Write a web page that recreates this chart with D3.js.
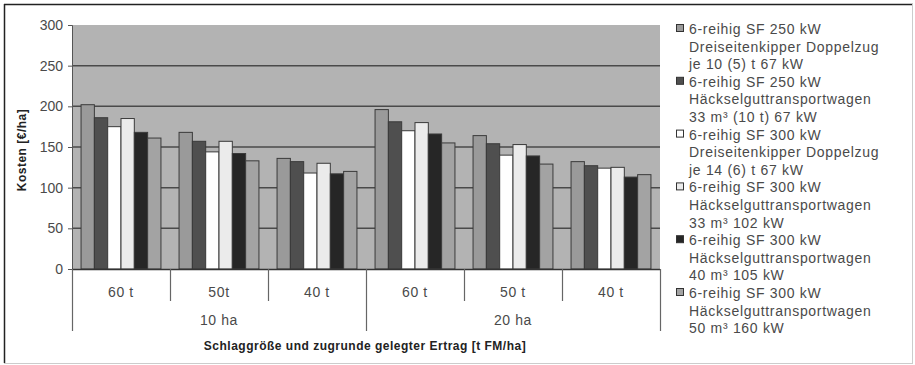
<!DOCTYPE html>
<html lang="de">
<head>
  <meta charset="utf-8">
  <title>Kosten</title>
  <script src="https://cdn.jsdelivr.net/npm/d3@7"></script>
  <style>
    body { margin: 0; background: #fff; }
    text { font-family: "Liberation Sans", Arial, sans-serif; }
  </style>
</head>
<body>
<script>
  // categories on the x axis and their groups
  let categories = ["60 t", "50t", "40 t", "60 t ", "50 t", "40 t "];
  let groups = ["10 ha", "20 ha"];
  let yTicks = [0, 50, 100, 150, 200, 250, 300];

  // one array per series, values in €/ha
  let s1 = [202, 168, 136, 196, 164, 132];
  let s2 = [186, 157, 132, 181, 154, 127];
  let s3 = [175, 144, 118, 170, 140, 124];
  let s4 = [185, 157, 130, 180, 153, 125];
  let s5 = [168, 142, 117, 166, 139, 113];
  let s6 = [161, 133, 120, 155, 129, 116];

  let legendLabels = [
    ["6-reihig SF 250 kW", "Dreiseitenkipper Doppelzug", "je 10 (5) t 67 kW"],
    ["6-reihig SF 250 kW", "Häckselguttransportwagen", "33 m³ (10 t) 67 kW"],
    ["6-reihig SF 300 kW", "Dreiseitenkipper Doppelzug", "je 14 (6) t 67 kW"],
    ["6-reihig SF 300 kW", "Häckselguttransportwagen", "33 m³ 102 kW"],
    ["6-reihig SF 300 kW", "Häckselguttransportwagen", "40 m³  105 kW"],
    ["6-reihig SF 300 kW", "Häckselguttransportwagen", "50 m³ 160 kW"]
  ];
  let colors = ["#9a9a9a", "#4f4f4f", "#ffffff", "#ebebeb", "#262626", "#a3a3a3"];

  let series = [s1, s2, s3, s4, s5, s6];

  let w = 915, h = 365;
  let mLeft = 72, mRight = 660, mTop = 25, mBottom = 269;

  let svg = d3.select("body").append("svg")
    .attr("width", w)
    .attr("height", h);

  // outer frame
  svg.append("line").attr("x1", 4).attr("y1", 4.5).attr("x2", 913).attr("y2", 4.5)
    .attr("stroke", "#222").attr("stroke-width", 1.5);
  svg.append("line").attr("x1", 4.5).attr("y1", 4).attr("x2", 4.5).attr("y2", 363)
    .attr("stroke", "#222").attr("stroke-width", 1.5);
  svg.append("line").attr("x1", 4).attr("y1", 363.5).attr("x2", 913).attr("y2", 363.5)
    .attr("stroke", "#ccc");
  svg.append("line").attr("x1", 912.5).attr("y1", 4).attr("x2", 912.5).attr("y2", 363)
    .attr("stroke", "#ccc");

  let x0 = d3.scaleBand()
    .domain(categories)
    .range([mLeft, mRight])
    .paddingInner(0);

  let x1 = d3.scaleBand()
    .domain(d3.range(series.length))
    .range([0, x0.bandwidth()])
    .paddingInner(0)
    .paddingOuter(0.68);

  let yScale = d3.scaleLinear()
    .domain([0, 300])
    .range([mBottom, mTop]);

  // plot area
  svg.append("rect")
    .attr("x", mLeft).attr("y", mTop)
    .attr("width", mRight - mLeft).attr("height", mBottom - mTop)
    .attr("fill", "#b3b3b3");

  // gridlines
  svg.append("g")
    .selectAll("line")
    .data(yTicks.filter(function(d) { return d > 0 && d < 300; }))
    .enter()
    .append("line")
    .attr("x1", mLeft).attr("x2", mRight)
    .attr("y1", function(d) { return yScale(d); })
    .attr("y2", function(d) { return yScale(d); })
    .attr("stroke", "#4a4a4a")
    .attr("stroke-width", 1.5);

  // bars
  let barGroups = svg.append("g")
    .selectAll("g")
    .data(series)
    .enter()
    .append("g")
    .attr("fill", function(d, i) { return colors[i]; });

  barGroups.each(function(vals, si) {
    d3.select(this).selectAll("rect")
      .data(vals)
      .enter()
      .append("rect")
      .attr("x", function(d, ci) { return x0(categories[ci]) + x1(si); })
      .attr("y", function(d) { return yScale(d); })
      .attr("width", x1.bandwidth())
      .attr("height", function(d) { return yScale(0) - yScale(d); })
      .attr("stroke", "#3a3a3a")
      .attr("stroke-width", 1);
  });

  // y axis
  let yAxis = d3.axisLeft(yScale)
    .tickValues(yTicks)
    .tickSize(4)
    .tickPadding(5);
  let gy = svg.append("g")
    .attr("transform", "translate(" + mLeft + ",0)")
    .call(yAxis);
  gy.select(".domain").attr("stroke", "#555");
  gy.selectAll(".tick line").attr("stroke", "#555");
  gy.selectAll("text")
    .attr("font-size", "14px")
    .attr("fill", "#4a4a4a")
    .attr("font-family", "'Liberation Sans', Arial, sans-serif");

  // x axis baseline
  svg.append("line")
    .attr("x1", mLeft).attr("x2", mRight)
    .attr("y1", mBottom + 0.5).attr("y2", mBottom + 0.5)
    .attr("stroke", "#333").attr("stroke-width", 1.5);

  // category separators
  let bounds = categories.map(function(c) { return x0(c); }).concat([mRight]);
  svg.append("g")
    .selectAll("line")
    .data(bounds)
    .enter()
    .append("line")
    .attr("x1", function(d) { return Math.round(d) + 0.5; })
    .attr("x2", function(d) { return Math.round(d) + 0.5; })
    .attr("y1", mBottom)
    .attr("y2", function(d, i) { return (i % 3 === 0) ? 331 : 301; })
    .attr("stroke", "#666")
    .attr("stroke-width", 1.2);

  // category labels
  svg.append("g")
    .selectAll("text")
    .data(categories)
    .enter()
    .append("text")
    .attr("x", function(d) { return x0(d) + x0.bandwidth() / 2; })
    .attr("y", 297)
    .attr("text-anchor", "middle")
    .attr("font-size", "14px")
    .attr("letter-spacing", "0.6px")
    .attr("fill", "#4a4a4a")
    .text(function(d) { return d.trim(); });

  // group labels
  svg.append("g")
    .selectAll("text")
    .data(groups)
    .enter()
    .append("text")
    .attr("x", function(d, i) {
      return (x0(categories[i * 3]) + x0(categories[i * 3 + 2]) + x0.bandwidth()) / 2;
    })
    .attr("y", 325)
    .attr("text-anchor", "middle")
    .attr("font-size", "14px")
    .attr("letter-spacing", "0.6px")
    .attr("fill", "#4a4a4a")
    .text(function(d) { return d; });

  // axis titles
  svg.append("text")
    .attr("x", 365)
    .attr("y", 350)
    .attr("text-anchor", "middle")
    .attr("font-size", "12px")
    .attr("font-weight", "bold")
    .attr("letter-spacing", "0.5px")
    .attr("fill", "#222")
    .text("Schlaggröße und zugrunde gelegter Ertrag [t FM/ha]");

  svg.append("text")
    .attr("transform", "translate(26,150) rotate(-90)")
    .attr("text-anchor", "middle")
    .attr("font-size", "12px")
    .attr("font-weight", "bold")
    .attr("letter-spacing", "0.5px")
    .attr("fill", "#222")
    .text("Kosten [€/ha]");

  // legend
  let lineH = 17.6;
  let legend = svg.append("g")
    .attr("transform", "translate(676,29)");

  let items = legend.selectAll("g")
    .data(legendLabels)
    .enter()
    .append("g")
    .attr("transform", function(d, i) { return "translate(0," + (i * 3 * lineH) + ")"; });

  items.append("rect")
    .attr("x", 0.5).attr("y", -4.5)
    .attr("width", 7).attr("height", 7)
    .attr("fill", function(d, i) { return colors[i]; })
    .attr("stroke", "#333");

  items.each(function(lines) {
    d3.select(this).selectAll("text")
      .data(lines)
      .enter()
      .append("text")
      .attr("x", 13)
      .attr("y", function(d, j) { return j * lineH + 5; })
      .attr("font-size", "14px")
      .attr("letter-spacing", "0.7px")
      .attr("fill", "#4a4a4a")
      .text(function(d) { return d; });
  });
</script>
</body>
</html>
